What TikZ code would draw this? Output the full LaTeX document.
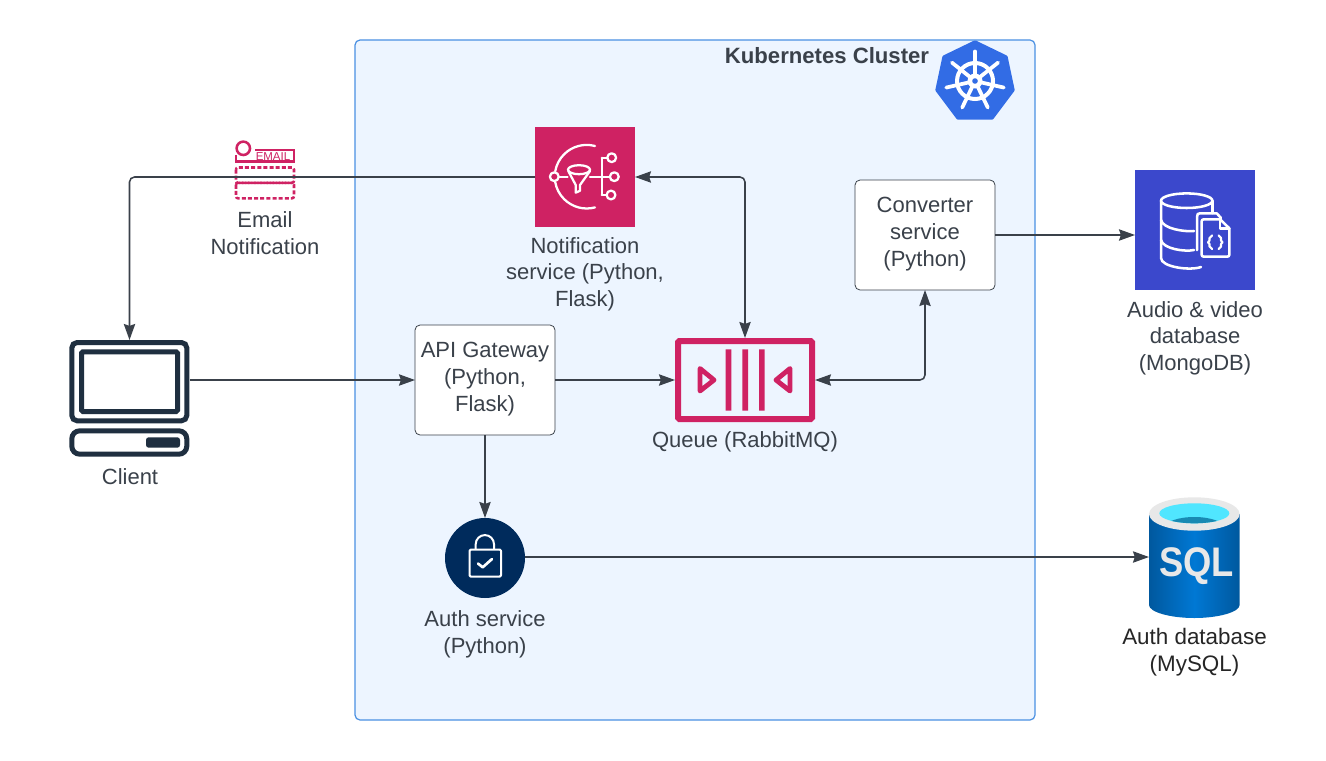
\documentclass[tikz,border=0pt]{standalone}
\usepackage{fontspec}
\setmainfont{Liberation Sans}
\usetikzlibrary{arrows.meta}
\definecolor{ink}{HTML}{3A414A}
\definecolor{clusterfill}{HTML}{EDF5FF}
\definecolor{clusterline}{HTML}{4A90E2}
\definecolor{crimson}{HTML}{CF2263}
\definecolor{navy}{HTML}{002B5C}
\definecolor{indigo}{HTML}{3B48CC}
\definecolor{kblue}{HTML}{326CE5}
\definecolor{term}{HTML}{1F2F40}
\definecolor{sqledge}{HTML}{00589E}
\definecolor{sqlmid}{HTML}{0078D4}
\definecolor{sqlrim}{HTML}{E8E8E8}
\definecolor{sqlcyan}{HTML}{50E6FF}
\definecolor{sqlwater}{HTML}{198AB3}
\tikzset{
  x=0.75pt,y=-0.75pt,
  conn/.style={draw=ink,line width=1.15pt,rounded corners=3.75pt,-{Stealth[length=12pt,width=8.5pt,inset=1.4pt]}},
  biconn/.style={conn,{Stealth[length=12pt,width=8.5pt,inset=1.4pt]}-{Stealth[length=12pt,width=8.5pt,inset=1.4pt]}},
  svc/.style={draw=ink,line width=0.6pt,fill=white,rounded corners=3.75pt,minimum width=105pt,minimum height=82.5pt,inner sep=0pt,outer sep=0pt},
  icon/.style={inner sep=0pt,outer sep=0pt},
  lbl/.style={align=center,inner sep=0pt,font=\fontsize{16.5}{20}\selectfont,text=ink},
  wh/.style={draw=white,line width=1.7pt,line cap=round,line join=round},
}
\begin{document}
\begin{tikzpicture}
\useasboundingbox (0,0) rectangle (1326,760);
\fill[white] (0,0) rectangle (1326,760);
% cluster
\node[icon,draw=clusterline,line width=0.9pt,fill=clusterfill,rounded corners=3.75pt,minimum width=510pt,minimum height=510pt] (cluster) at (695,380) {};
\node[lbl,font=\bfseries\fontsize{16.6}{20}\selectfont] (clustertitle) at (827,56) {Kubernetes Cluster};
% kubernetes logo
\node[icon,minimum width=60pt,minimum height=60pt] (k8s) at (975,81) {};
\fill[kblue,draw=kblue,line width=2.5pt,line join=round] (975,42) -- (1006,57) -- (1013,90) -- (992,118) -- (958,118) -- (937,90) -- (944,57) -- cycle;
\draw[white,line width=3pt] (975,81) circle (18);
\foreach \a in {90,141.43,192.86,244.29,295.71,347.14,38.57}{
  \draw[white,line width=2.8pt,line cap=round] (975,81) -- ++({cos(\a)*29.5},{-sin(\a)*29.5});
}
\fill[white] (975,81) circle (7.5);
\fill[kblue] (975,81) circle (2.8);
% email icon
\draw[crimson,line width=1.9pt] (243.3,148.3) circle (6.7);
\draw[crimson,line width=1.9pt] (255,150) -- (294,150) -- (294,161.7) -- (236,161.7) -- (236,155);
\node[icon,text=crimson,font=\fontsize{8.6}{9}\selectfont] (emailword) at (273,157) {EMAIL};
\draw[crimson,line width=1.9pt,dash pattern=on 3pt off 1.6pt,rounded corners=1.5pt] (236,167.5) rectangle (294,182.8);
\draw[crimson,line width=1.9pt,dash pattern=on 3pt off 1.6pt,rounded corners=1.5pt] (236,182.8) rectangle (294,198.3);
\node[icon,minimum width=43.5pt,minimum height=44pt] (email) at (265,170) {};
\node[lbl] (emaillbl) at (265,233) {Email\\Notification};
% notification service
\node[icon,fill=crimson,minimum width=75pt,minimum height=75pt] (notif) at (585,177) {};
\draw[wh] (595,146) arc (-75:-170:32);
\draw[wh] (595,207.4) arc (75:170:32);
\draw[wh] (554.3,176.7) circle (4.4);
\draw[wh] (558.7,176.7) -- (567.5,176.7);
\draw[wh] (590,176.7) -- (609.8,176.7);
\draw[wh] (601.7,157.7) -- (601.7,195) (601.7,157.7) -- (607.2,157.7) (601.7,195) -- (606.5,195);
\draw[wh] (611.7,157.7) circle (4.4) (614.3,176.7) circle (4.4) (611,195) circle (4.4);
\draw[wh] (579,169.7) ellipse (11 and 4.5);
\draw[wh] (568.3,171) -- (575.7,185) -- (575.7,192.7) -- (580,190.7) -- (580,185) -- (590,171);
\node[lbl] (notiflbl) at (585,274) {Notification\\service (Python,\\Flask)};
% converter
\node[svc] (conv) at (925,235) {};
\node[lbl] (convlbl) at (925,234) {Converter\\service\\(Python)};
% api
\node[svc] (api) at (485,380) {};
\node[lbl] (apilbl) at (485,379) {API Gateway\\(Python,\\Flask)};
% queue
\node[icon,minimum width=105pt,minimum height=63pt] (queue) at (745,380) {};
\draw[crimson,line width=4.5pt,rounded corners=1pt] (678,341) rectangle (812,419);
\fill[crimson] (725.7,349.3) rectangle (731.3,410.7) (742.3,349.3) rectangle (748,410.7) (759,349.3) rectangle (764.7,410.7);
\draw[crimson,line width=3.6pt,line join=round] (700,368.5) -- (700,391) -- (714,380) -- cycle;
\draw[crimson,line width=3.6pt,line join=round] (790,368.5) -- (790,391) -- (776,380) -- cycle;
\node[lbl] (queuelbl) at (745,442) {Queue (RabbitMQ)};
% client
\node[icon,minimum width=90pt,minimum height=87.75pt] (client) at (129.5,398.5) {};
\draw[term,line width=3.75pt,rounded corners=4pt] (71.8,342.5) rectangle (186.8,420.8);
\draw[term,line width=3.75pt,rounded corners=1pt] (81.5,351.8) rectangle (177.5,411.5);
\draw[term,line width=3.75pt,rounded corners=6pt] (71.8,430.8) rectangle (186.8,454.2);
\fill[term,rounded corners=2pt] (146,437.3) rectangle (180,447.7);
\node[lbl] (clientlbl) at (130,477) {Client};
% auth
\node[icon,circle,fill=navy,minimum size=60pt] (auth) at (485,558) {};
\draw[white,line width=1.5pt,rounded corners=1pt,line join=round] (469.5,549.5) rectangle (501,576.7);
\draw[white,line width=1.5pt] (475.7,549.5) -- (475.7,544.2) arc (180:360:9.15) -- (494,549.5);
\draw[white,line width=2pt,line join=round,line cap=round] (478,563.5) -- (482.7,567.3) -- (492,559);
\node[lbl] (authlbl) at (485,634) {Auth service\\(Python)};
% mongo
\node[icon,fill=indigo,minimum width=90pt,minimum height=90pt] (mongo) at (1195,230) {};
\begin{scope}[wh/.append style={line width=1.9pt}]
\draw[wh] (1186.7,200.7) ellipse (25.7 and 7.3);
\draw[wh] (1212.4,200.7) -- (1212.4,213);
\draw[wh] (1161,200.7) -- (1161,258) .. controls (1161,267) and (1190,271) .. (1201,267);
\draw[wh] (1161,220) .. controls (1163,229) and (1185,232) .. (1194,231);
\draw[wh] (1161,240) .. controls (1163,249) and (1185,252) .. (1194,250);
\draw[wh] (1197,250) -- (1197,217) .. controls (1197,214) and (1198,213.3) .. (1200,213.3) -- (1216.7,213.3) -- (1221,218);
\draw[wh,fill=indigo] (1201.7,221) .. controls (1201.7,220) and (1202.7,219.3) .. (1204,219.3) -- (1220,219.3) -- (1229.3,228.3) -- (1229.3,255) .. controls (1229.3,256) and (1228.3,256.7) .. (1227,256.7) -- (1204,256.7) .. controls (1202.7,256.7) and (1201.7,256) .. (1201.7,255) -- cycle;
\draw[wh] (1220,219.3) -- (1220,228.3) -- (1229.3,228.3);
\draw[wh,line width=1.6pt] (1212,235.5) -- (1209.5,238) -- (1209.5,240.5) -- (1208,242.3) -- (1209.5,244) -- (1209.5,246.5) -- (1212,249);
\draw[wh,line width=1.6pt] (1218.5,235.5) -- (1221,238) -- (1221,240.5) -- (1222.5,242.3) -- (1221,244) -- (1221,246.5) -- (1218.5,249);
\end{scope}
\node[lbl] (mongolbl) at (1195,338) {Audio \& video\\database\\(MongoDB)};
% sql
\node[icon,minimum width=68pt,minimum height=90pt] (sql) at (1194.3,558.5) {};
\path[left color=sqledge,right color=sqledge,middle color=sqlmid] (1149,514) -- (1149,605) .. controls (1149,612) and (1170,618) .. (1194.3,618) .. controls (1218.6,618) and (1239.6,612) .. (1239.6,605) -- (1239.6,514) -- cycle;
\fill[sqlrim] (1194.3,514) ellipse (45.3 and 16.7);
\fill[sqlcyan] (1194.3,513.3) ellipse (35 and 10);
\begin{scope}
\clip (1194.3,513.3) ellipse (35 and 10);
\fill[sqlwater] (1194.3,528) ellipse (30 and 11);
\end{scope}
\node[icon,text=sqlrim,font=\bfseries\fontsize{31}{34}\selectfont] (sqlword) at (1196.7,566.5) {\scalebox{0.88}[1]{SQL}};
\node[lbl,text=black!85,font=\fontsize{16.8}{20}\selectfont] (sqllbl) at (1194.5,652.5) {Auth database\\(MySQL)};
% connectors
\draw[conn] (notif.west) -| (client.north);
\draw[conn] (client.east |- api.west) -- (api.west);
\draw[conn] (api.east) -- (queue.west);
\draw[conn] (api.south) -- (auth.north);
\draw[conn] (auth.east) ++(0,-1) coordinate (authout) -- (authout -| sql.west);
\draw[biconn] (notif.east) -| (queue.north);
\draw[biconn] (queue.east) -| (conv.south);
\draw[conn] (conv.east) -- (conv.east -| mongo.west);
\end{tikzpicture}
\end{document}
